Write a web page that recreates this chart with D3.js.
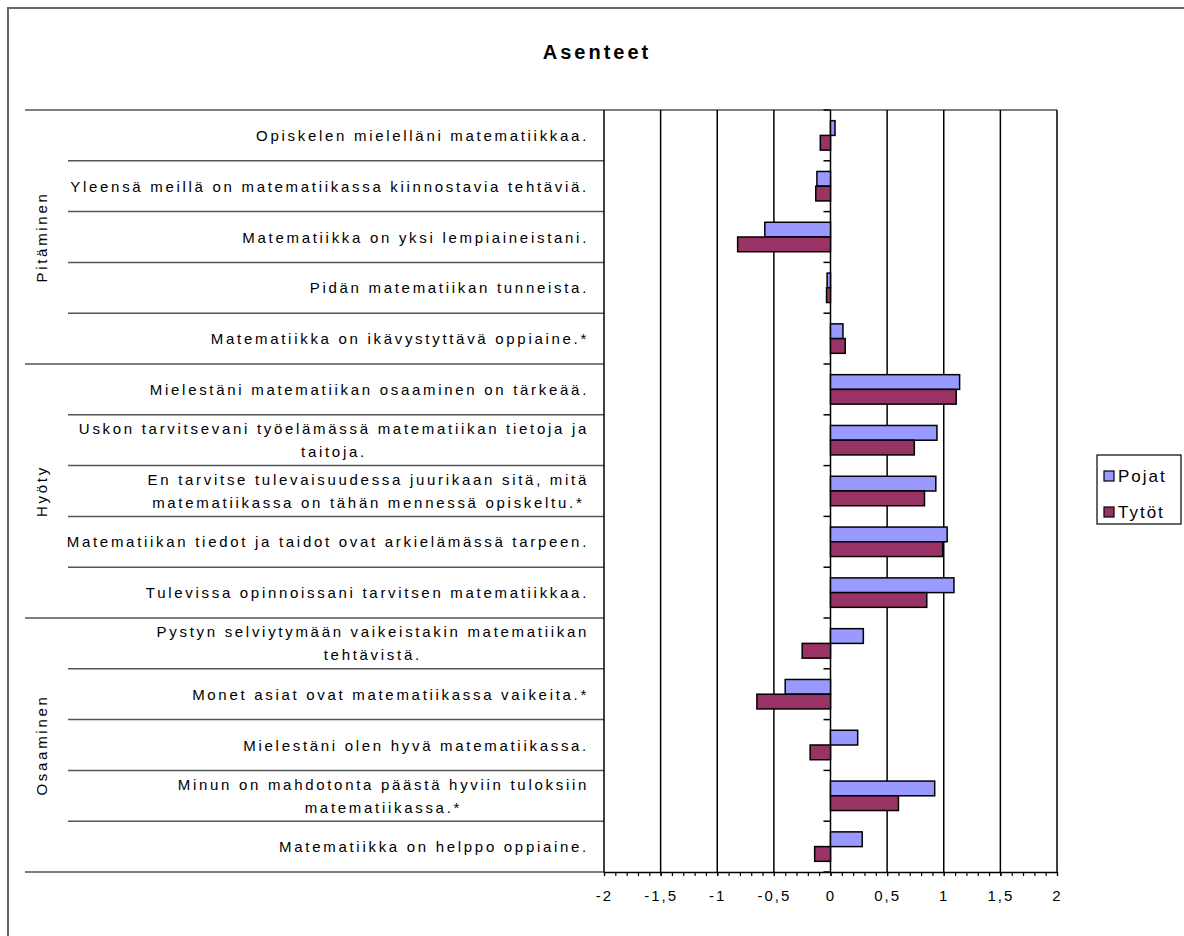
<!DOCTYPE html>
<html><head><meta charset="utf-8">
<script src="https://cdn.jsdelivr.net/npm/d3@7"></script>
<style>
html,body{margin:0;padding:0;background:#fff;}
svg{display:block;}
text{font-family:"Liberation Sans",Arial,sans-serif;fill:#000;}
</style></head>
<body>
<script>
const title = "Asenteet";
const categories = [
  "Opiskelen mielelläni matematiikkaa.",
  "Yleensä meillä on matematiikassa kiinnostavia tehtäviä.",
  "Matematiikka on yksi lempiaineistani.",
  "Pidän matematiikan tunneista.",
  "Matematiikka on ikävystyttävä oppiaine.*",
  "Mielestäni matematiikan osaaminen on tärkeää.",
  "Uskon tarvitsevani työelämässä matematiikan tietoja ja taitoja.",
  "En tarvitse tulevaisuudessa juurikaan sitä, mitä matematiikassa on tähän mennessä opiskeltu.*",
  "Matematiikan tiedot ja taidot ovat arkielämässä tarpeen.",
  "Tulevissa opinnoissani tarvitsen matematiikkaa.",
  "Pystyn selviytymään vaikeistakin matematiikan tehtävistä.",
  "Monet asiat ovat matematiikassa vaikeita.*",
  "Mielestäni olen hyvä matematiikassa.",
  "Minun on mahdotonta päästä hyviin tuloksiin matematiikassa.*",
  "Matematiikka on helppo oppiaine."
];
const groups = ["Pitäminen", "Hyöty", "Osaaminen"];
const groupIndex = [0,0,0,0,0, 1,1,1,1,1, 2,2,2,2,2];
const seriesNames = ["Pojat", "Tytöt"];
const pojat = [0.04, -0.12, -0.58, -0.03, 0.11, 1.14, 0.94, 0.93, 1.03, 1.09, 0.29, -0.40, 0.24, 0.92, 0.28];
const tytot = [-0.09, -0.13, -0.82, -0.035, 0.13, 1.11, 0.74, 0.83, 0.99, 0.85, -0.25, -0.65, -0.18, 0.60, -0.14];
const xTicks = [-2, -1.5, -1, -0.5, 0, 0.5, 1, 1.5, 2];
const xTickLabels = ["-2", "-1,5", "-1", "-0,5", "0", "0,5", "1", "1,5", "2"];
const colors = ["#9999FF", "#993366"];

const W = 1184, H = 936;
const svg = d3.select("body").append("svg").attr("width", W).attr("height", H);

const plot = {left: 604, right: 1057, top: 110, bottom: 872};
const labelRight = 589, labelLeftCat = 68, labelLeftGroup = 25;
const LS = 2.7;

const x = d3.scaleLinear().domain([-2, 2]).range([plot.left, plot.right]);
const y = d3.scaleBand().domain(d3.range(categories.length)).range([plot.top, plot.bottom]);
const ys = d3.scaleBand().domain(seriesNames).range([y.bandwidth()*0.21, y.bandwidth()*0.79]);

// outer frame (top and left edges)
svg.append("path").attr("d", `M8,${H} V8 H${W}`).attr("fill","none").attr("stroke","#666").attr("stroke-width",2);

// title
svg.append("text").attr("x", 597).attr("y", 52).attr("text-anchor","middle").attr("dominant-baseline","central")
  .style("font-size","20px").style("font-weight","bold").style("letter-spacing","3px").text(title);

// label area lines
const bounds = d3.range(categories.length + 1).map(i => i < categories.length ? y(i) : plot.bottom);
bounds.forEach((b, i) => {
  const isGroupEdge = i === 0 || i === categories.length || groupIndex[i] !== groupIndex[i-1];
  svg.append("line").attr("x1", isGroupEdge ? labelLeftGroup : labelLeftCat).attr("x2", plot.left)
    .attr("y1", b).attr("y2", b).attr("stroke", "#555").attr("stroke-width", 1.5);
});
// top border across plot
svg.append("line").attr("x1", plot.left).attr("x2", plot.right).attr("y1", plot.top).attr("y2", plot.top)
  .attr("stroke","#555").attr("stroke-width",1.5);

// vertical gridlines
svg.append("g").selectAll("line").data(xTicks).join("line")
  .attr("x1", d => x(d)).attr("x2", d => x(d)).attr("y1", plot.top).attr("y2", plot.bottom)
  .attr("stroke", "#000").attr("stroke-width", 1.5);

// x axis with minor ticks
const minor = d3.range(-20, 21).map(i => i/10);
const axMinor = svg.append("g").attr("transform", `translate(0,${plot.bottom})`)
  .call(d3.axisBottom(x).tickValues(minor).tickSize(4).tickFormat("").tickSizeOuter(0));
axMinor.select(".domain").attr("stroke","#000").attr("stroke-width",1.5);
axMinor.selectAll(".tick line").attr("stroke","#000").attr("stroke-width",1.2);
const axMajor = svg.append("g").attr("transform", `translate(0,${plot.bottom})`)
  .call(d3.axisBottom(x).tickValues(xTicks).tickSize(4).tickPadding(14).tickSizeOuter(0)
    .tickFormat((d, i) => xTickLabels[i]));
axMajor.select(".domain").remove();
axMajor.selectAll(".tick line").attr("stroke","#000").attr("stroke-width",1.2);
axMajor.selectAll(".tick text").style("font-size","15px").style("letter-spacing","2px")
  .style("font-family","Liberation Sans, Arial, sans-serif").attr("fill","#000");

// category axis ticks at zero
svg.append("g").selectAll("line").data(bounds).join("line")
  .attr("x1", x(0) - 7).attr("x2", x(0)).attr("y1", d => d).attr("y2", d => d)
  .attr("stroke","#000").attr("stroke-width",1.5);

// bars
const rows = categories.map((c, i) => ({i, vals: [pojat[i], tytot[i]]}));
const gRows = svg.append("g").selectAll("g").data(rows).join("g")
  .attr("transform", d => `translate(0,${y(d.i)})`);
gRows.selectAll("rect").data(d => d.vals.map((v, k) => ({v, k}))).join("rect")
  .attr("x", d => x(Math.min(0, d.v)))
  .attr("width", d => Math.abs(x(d.v) - x(0)))
  .attr("y", d => ys(seriesNames[d.k]))
  .attr("height", ys.bandwidth())
  .attr("fill", d => colors[d.k]).attr("stroke", "#000").attr("stroke-width", 1.5);

// category labels with wrapping
const maxW = 524;
const labG = svg.append("g").style("font-size","15px").style("letter-spacing", LS + "px");
const tmp = labG.append("text");
function measure(s){ tmp.text(s); return tmp.node().getComputedTextLength(); }
categories.forEach((c, i) => {
  const words = c.split(" ");
  const lines = [];
  let cur = "";
  words.forEach(w => {
    const t = cur ? cur + " " + w : w;
    if (measure(t) > maxW && cur) { lines.push(cur); cur = w; } else cur = t;
  });
  lines.push(cur);
  const widths = lines.map(measure);
  const bw = d3.max(widths);
  const cy = y(i) + y.bandwidth()/2;
  const lh = 23;
  lines.forEach((ln, k) => {
    const t = labG.append("text").attr("dominant-baseline","central")
      .attr("y", cy + (k - (lines.length - 1)/2) * lh);
    if (lines.length === 1) t.attr("x", labelRight).attr("text-anchor","end");
    else t.attr("x", labelRight - bw/2).attr("text-anchor","middle");
    t.text(ln);
  });
});
tmp.remove();

// group labels
groups.forEach((g, gi) => {
  const idx = groupIndex.map((v, i) => v === gi ? i : -1).filter(i => i >= 0);
  const y0 = y(idx[0]), y1 = y(idx[idx.length-1]) + y.bandwidth();
  svg.append("text").attr("transform", `translate(41,${(y0+y1)/2}) rotate(-90)`)
    .attr("text-anchor","middle").attr("dominant-baseline","central")
    .style("font-size","15px").style("letter-spacing", LS + "px").text(g);
});

// legend
const leg = svg.append("g");
leg.append("rect").attr("x", 1097).attr("y", 455).attr("width", 84).attr("height", 69)
  .attr("fill","#fff").attr("stroke","#000").attr("stroke-width",1.2);
seriesNames.forEach((s, k) => {
  const ly = 476 + k * 36;
  leg.append("rect").attr("x", 1104).attr("y", ly - 5).attr("width", 10).attr("height", 10)
    .attr("fill", colors[k]).attr("stroke","#000").attr("stroke-width",1.2);
  leg.append("text").attr("x", 1118).attr("y", ly).attr("dominant-baseline","central")
    .style("font-size","17px").style("letter-spacing","2px").text(s);
});
</script>
</body></html>
